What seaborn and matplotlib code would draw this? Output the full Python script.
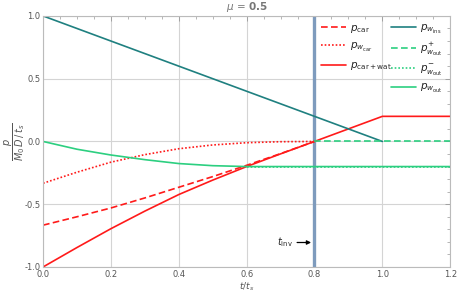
import numpy as np
import pandas as pd
import matplotlib
matplotlib.use("Agg")
import matplotlib.pyplot as plt
import seaborn as sns

# values
t_pre = [0.0, 0.1, 0.2, 0.3, 0.4, 0.5, 0.6, 0.7, 0.8]
p_car = [-0.667, -0.60, -0.53, -0.45, -0.365, -0.28, -0.19, -0.097, 0.0]
p_w_car = [-0.333, -0.245, -0.165, -0.105, -0.058, -0.028, -0.01, -0.002, 0.0]
t_sum = [0.0, 0.1, 0.2, 0.3, 0.4, 0.5, 0.6, 0.7, 0.8, 1.0, 1.2]
p_car_wat = [-1.0, -0.845, -0.695, -0.555, -0.423, -0.308, -0.2, -0.099, 0.0, 0.2, 0.2]
t_ins = [0.0, 1.0]
p_w_ins = [1.0, 0.0]
t_plus = [0.8, 1.2]
p_w_out_plus = [0.0, 0.0]
t_minus = [0.6, 1.2]
p_w_out_minus = [-0.2, -0.2]
t_out = [0.0, 0.1, 0.2, 0.3, 0.4, 0.5, 0.6, 0.8, 1.2]
p_w_out = [0.0, -0.062, -0.108, -0.145, -0.176, -0.193, -0.2, -0.2, -0.2]
t_inv = 0.8
mu = 0.5

red = "#ff1a1a"
teal = "#1f8080"
green = "#2ccf80"
gray = "#555555"

sns.set_style("white")
plt.rcParams["font.family"] = ["DejaVu Sans"]
plt.rcParams["mathtext.fontset"] = "dejavusans"

fig = plt.figure(figsize=(4.58, 2.95), dpi=100)
ax = fig.add_axes([0.094, 0.095, 0.889, 0.851])

ax.axvline(t_inv, color="#7e9bbd", lw=2.4, zorder=1)

sns.lineplot(x=t_pre, y=p_car, ax=ax, color=red, lw=1.2,
             linestyle=(0, (4, 2)), label=r"$p_{\mathrm{car}}$")
sns.lineplot(x=t_pre, y=p_w_car, ax=ax, color=red, lw=1.2,
             linestyle=(0, (1, 1.2)), label=r"$p_{w_{\mathrm{car}}}$")
sns.lineplot(x=t_sum, y=p_car_wat, ax=ax, color=red, lw=1.2,
             label=r"$p_{\mathrm{car+wat}}$")
sns.lineplot(x=t_ins, y=p_w_ins, ax=ax, color=teal, lw=1.2,
             label=r"$p_{w_{\mathrm{ins}}}$")
sns.lineplot(x=t_plus, y=p_w_out_plus, ax=ax, color=green, lw=1.2,
             linestyle=(0, (4, 2)), label=r"$p^{+}_{w_{\mathrm{out}}}$")
sns.lineplot(x=t_minus, y=p_w_out_minus, ax=ax, color=green, lw=1.2,
             linestyle=(0, (1, 1.2)), label=r"$p^{-}_{w_{\mathrm{out}}}$")
sns.lineplot(x=t_out, y=p_w_out, ax=ax, color=green, lw=1.2,
             label=r"$p_{w_{\mathrm{out}}}$")

handles, labels = ax.get_legend_handles_labels()
ax.get_legend().remove()
leg1 = ax.legend(handles[:3], labels[:3], loc="upper left", bbox_to_anchor=(0.672, 0.99),
                 frameon=False, fontsize=7.5, handlelength=2.4, labelspacing=0.6,
                 handletextpad=0.4, borderaxespad=0)
ax.add_artist(leg1)
ax.legend(handles[3:], labels[3:], loc="upper left", bbox_to_anchor=(0.845, 0.99),
          frameon=False, fontsize=7.5, handlelength=2.4, labelspacing=0.45,
          handletextpad=0.4, borderaxespad=0)

ax.annotate(r"$t_{\mathrm{inv}}$", xy=(0.79, -0.805), xytext=(0.735, -0.805),
            fontsize=7, ha="right", va="center",
            arrowprops=dict(arrowstyle="-|>", color="black", lw=0.9,
                            shrinkA=1, shrinkB=0, mutation_scale=6))

ax.set_xlim(0, 1.2)
ax.set_ylim(-1, 1)
ax.set_xticks(np.arange(0, 1.21, 0.2))
ax.set_yticks([-1.0, -0.5, 0.0, 0.5, 1.0])
ax.set_xticks(np.arange(0, 1.21, 0.05), minor=True)
ax.set_yticks(np.arange(-1, 1.01, 0.1), minor=True)
ax.xaxis.set_major_formatter(matplotlib.ticker.FormatStrFormatter("%.1f"))
ax.yaxis.set_major_formatter(matplotlib.ticker.FormatStrFormatter("%.1f"))
ax.grid(True, which="major", color="#d4d4d4", lw=0.8, zorder=0)
ax.tick_params(which="both", direction="in", top=True, right=True, colors="#999999",
               labelcolor=gray, labelsize=6, pad=2)
ax.tick_params(which="major", length=3.5, width=0.6)
ax.tick_params(which="minor", length=2, width=0.5)
for s in ax.spines.values():
    s.set_color("#bbbbbb")
    s.set_linewidth(0.8)

ax.set_xlabel(r"$t/t_s$", fontsize=6.5, color=gray, labelpad=1)
ax.set_ylabel(r"$\dfrac{p}{M_0\,D\,/\,t_s}$", fontsize=7, color=gray)
ax.yaxis.set_label_coords(-0.04, 0.5)
ax.set_title(r"$\mu$ = $\mathbf{%s}$" % mu, fontsize=7.5, color="#777777", pad=4)

fig.savefig("out.png", dpi=100)
